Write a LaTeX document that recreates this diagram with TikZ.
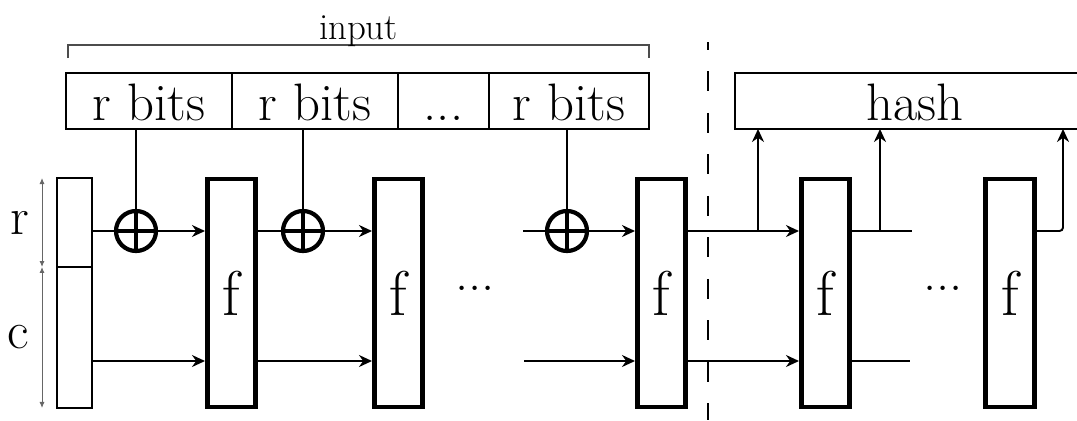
\documentclass[tikz,border=0pt]{standalone}
\usetikzlibrary{arrows.meta, positioning}
\newcommand{\bigtext}{\fontsize{30}{36}\selectfont}
\newcommand{\ftext}{\fontsize{36}{42}\selectfont}
\newcommand{\smalltext}{\fontsize{21}{25}\selectfont}

\begin{document}
\begin{tikzpicture}[
    x=0.02cm, y=-0.02cm,
    wire/.style={line width=1.1pt},
    arrow/.style={wire, -{Stealth[length=2.6mm, width=2.4mm]}},
    dim/.style={line width=0.5pt, black!60, {Latex[length=1.2mm, width=1mm]}-{Latex[length=1.2mm, width=1mm]}},
    brace/.style={line width=0.7pt, black!70},
    sep/.style={line width=1.3pt, dash pattern=on 0.4cm off 0.43cm, dash phase=0.24cm},
    cell/.style={draw, line width=1.1pt, minimum height=1.12cm, inner sep=0pt, outer sep=0pt,
        text height=0.76cm, text depth=0pt, font=\bigtext},
    state/.style={draw, line width=1.1pt, minimum width=0.7cm, inner sep=0pt, outer sep=0pt},
    fblock/.style={draw, line width=2.6pt, minimum width=0.97cm, minimum height=4.56cm, inner sep=0pt, font=\ftext},
    xor/.style={circle, draw, line width=2.4pt, minimum size=0.8cm, inner sep=0pt},
    dots/.style={font=\bigtext, inner sep=0pt, text height=3pt, text depth=0pt}
]
    \useasboundingbox (0,0) rectangle (1077,420);

    % input blocks
    \node[cell, minimum width=3.32cm] (c1) at (149,101) {r bits};
    \node[cell, minimum width=3.32cm, right=0pt of c1] (c2) {r bits};
    \node[cell, minimum width=1.82cm, right=0pt of c2] (c3) {...};
    \node[cell, minimum width=3.2cm, right=0pt of c3] (c4) {r bits};
    \draw[brace] ([shift={(2,-15)}]c1.north west) -- ([shift={(2,-28)}]c1.north west)
        -- node[midway, anchor=base, yshift=3pt, inner sep=0pt, font=\smalltext, text=black] (inlabel) {input}
        ([shift={(0,-28)}]c4.north east) -- ([shift={(0,-15)}]c4.north east);

    % output block
    \node[cell, minimum width=7.2cm] (hash) at (915,101) {hash};

    % state
    \node[state, minimum height=1.78cm] (sr) at (74.5,222.5) {};
    \node[state, minimum height=2.82cm, below=0pt of sr] (sc) {};
    \draw[dim] ([xshift=-0.3cm]sr.north west) -- node[left=0.14cm, font=\bigtext, text=black] (rlabel) {r} ([xshift=-0.3cm]sr.south west);
    \draw[dim] ([xshift=-0.3cm]sc.north west) -- node[left=0.14cm, font=\bigtext, text=black] (clabel) {c} ([xshift=-0.3cm]sc.south west);

    % rounds
    \node[fblock] (f1) at (231.5,293) {f};
    \node[fblock] (f2) at (398.5,293) {f};
    \node[fblock] (f3) at (661.5,293) {f};
    \node[fblock] (f4) at (825.5,293) {f};
    \node[fblock] (f5) at (1010,293) {f};
    \node[dots] (d1) at (475,288) {...};
    \node[dots] (d2) at (943,288) {...};

    \node[xor] (x1) at (136,231) {};
    \node[xor] (x2) at (303,231) {};
    \node[xor] (x3) at (567,231) {};
    \foreach \n in {x1,x2,x3}
        \draw[line width=2.4pt] (\n.north) -- (\n.south) (\n.west) -- (\n.east);

    \coordinate (toprow) at (0,231);
    \coordinate (botrow) at (0,361);
    \coordinate (in3) at (523,231);
    \coordinate (in3b) at (524,361);
    \coordinate (tap1) at (758,231);
    \coordinate (tap2) at (880,231);
    \coordinate (out4) at (912,231);
    \coordinate (out4b) at (910,361);
    \coordinate (tap3) at (1063,231);

    % absorbing
    \draw[wire] (c1.south -| x1) -- (x1);
    \draw[wire] (c2.south -| x2) -- (x2);
    \draw[wire] (c4.south -| x3) -- (x3);
    \draw[wire] (sr.east |- toprow) -- (x1);
    \draw[arrow] (x1) -- (x1 -| f1.west);
    \draw[wire] (f1.east |- toprow) -- (x2);
    \draw[arrow] (x2) -- (x2 -| f2.west);
    \draw[arrow] (sc.east |- botrow) -- (f1.west |- botrow);
    \draw[arrow] (f1.east |- botrow) -- (f2.west |- botrow);
    \draw[wire] (in3) -- (x3);
    \draw[arrow] (x3) -- (x3 -| f3.west);
    \draw[arrow] (in3b) -- (f3.west |- botrow);

    % squeezing
    \draw[sep] (708,42) -- (708,420);
    \draw[arrow] (f3.east |- toprow) -- (f4.west |- toprow);
    \draw[arrow] (f3.east |- botrow) -- (f4.west |- botrow);
    \draw[arrow] (tap1) -- (tap1 |- hash.south);
    \draw[wire] (f4.east |- toprow) -- (out4);
    \draw[wire] (f4.east |- botrow) -- (out4b);
    \draw[arrow] (tap2) -- (tap2 |- hash.south);
    \draw[arrow, rounded corners=2pt] (f5.east |- toprow) -- (tap3) -- (tap3 |- hash.south);
\end{tikzpicture}
\end{document}
